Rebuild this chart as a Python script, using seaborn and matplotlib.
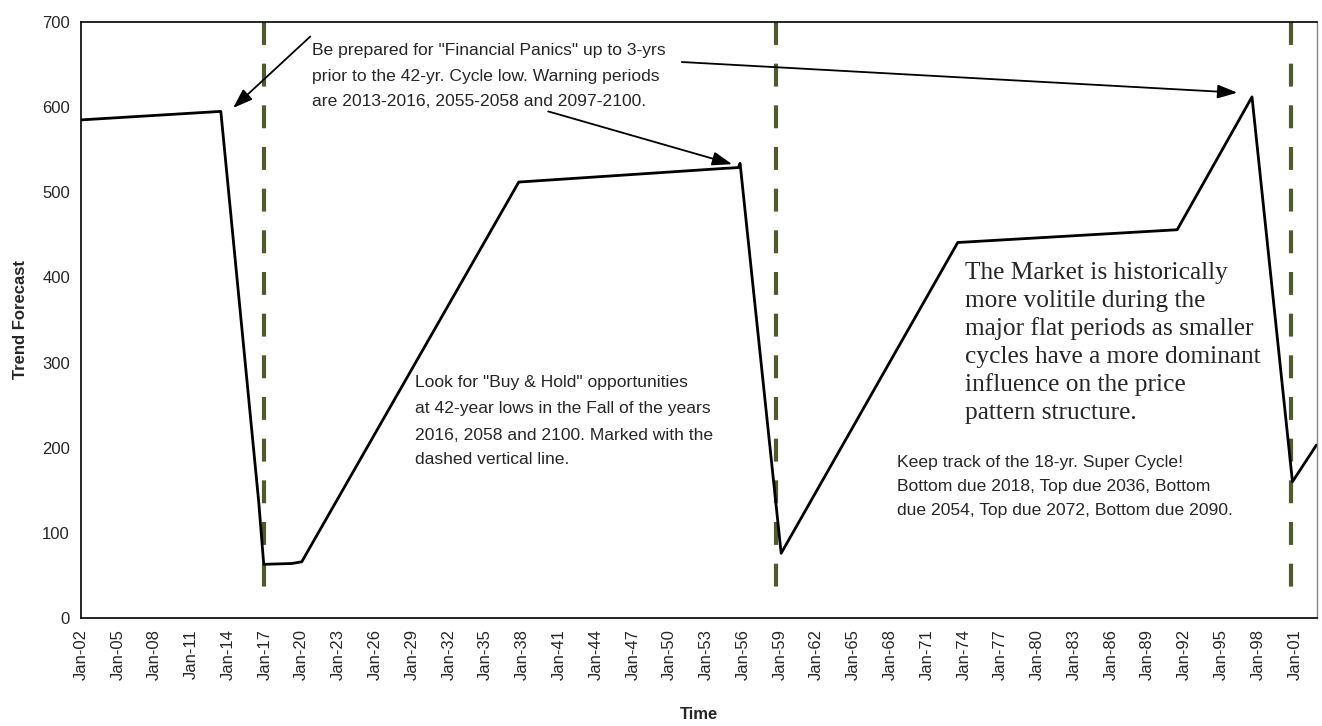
import matplotlib
matplotlib.use("Agg")
import matplotlib.pyplot as plt
from matplotlib import font_manager
import seaborn as sns
import pandas as pd

# ---- data ----
years = [2002, 2013.4, 2016.5, 2016.9, 2019.2, 2020.0, 2037.7, 2054.4, 2055.6, 2055.75,
         2059.1, 2073.5, 2091.4, 2097.5, 2100.8, 2102.75]
values = [585, 595, 135, 63, 64, 66, 512, 528, 529, 534,
          76, 441, 456, 612, 160, 203]
cycle_lows = [2016.9, 2058.7, 2100.7]
tick_years = list(range(2002, 2102, 3))
tick_labels = [f"Jan-{y % 100:02d}" for y in tick_years]
y_ticks = [0, 100, 200, 300, 400, 500, 600, 700]

lines_panics = ['Be prepared for "Financial Panics" up to 3-yrs',
                'prior to the 42-yr. Cycle low. Warning periods',
                'are 2013-2016, 2055-2058 and 2097-2100.']
lines_buy = ['Look for "Buy & Hold" opportunities',
             'at 42-year lows in the Fall of the years',
             '2016, 2058 and 2100. Marked with the',
             'dashed vertical line.']
lines_super = ['Keep track of the 18-yr. Super Cycle!',
               'Bottom due 2018, Top due 2036, Bottom',
               'due 2054, Top due 2072, Bottom due 2090.']
lines_market = ['The Market is historically',
                'more volitile during the',
                'major flat periods as smaller',
                'cycles have a more dominant',
                'influence on the price',
                'pattern structure.']

df = pd.DataFrame({"Time": years, "Trend Forecast": values})

sns.set_style("white")
avail = {f.name for f in font_manager.fontManager.ttflist}
sans = [f for f in ["Liberation Sans", "DejaVu Sans"] if f in avail]
serif = [f for f in ["Liberation Serif", "DejaVu Serif"] if f in avail]
plt.rcParams["font.family"] = sans

W, H = 1322, 726
fig = plt.figure(figsize=(W / 100, H / 100), dpi=100)
ax = fig.add_axes([0.0613, 0.1488, 0.9962 - 0.0613, 0.9697 - 0.1488])

sns.lineplot(data=df, x="Time", y="Trend Forecast", ax=ax, color="black",
             linewidth=2.0, sort=False, estimator=None)

ax.vlines(cycle_lows, 700, 25, colors="#4f5b2c", linewidth=3.0,
          linestyles=(0, (5.5, 4.5)), zorder=1)

ax.set_xlim(2002, 2102.8)
ax.set_ylim(0, 700)
ax.set_xticks(tick_years)
ax.set_xticklabels(tick_labels, rotation=90, fontsize=12)
ax.set_yticks(y_ticks)
ax.set_yticklabels([str(v) for v in y_ticks], fontsize=12)
ax.tick_params(axis="both", direction="out", length=5, width=1, color="black", pad=3)
ax.set_xlabel("Time", fontsize=12, fontweight="bold", labelpad=19)
ax.set_ylabel("Trend Forecast", fontsize=12, fontweight="bold", labelpad=10)

for side in ["left", "bottom", "top"]:
    ax.spines[side].set_color("black")
    ax.spines[side].set_linewidth(1.2)
ax.spines["right"].set_color("#888888")
ax.spines["right"].set_linewidth(1.0)

renderer = fig.canvas.get_renderer()


def place_block(lines, x_px, y_centers, size=None, target_w=None, **kw):
    texts = [fig.text(x_px / W, 1 - y / H, s, va="center", ha="left", **kw)
             for s, y in zip(lines, y_centers)]
    if size is None:
        for t in texts:
            t.set_fontsize(10)
        wmax = max(t.get_window_extent(renderer).width for t in texts)
        size = 10 * target_w / wmax
    for t in texts:
        t.set_fontsize(size)
    return texts


note_size = 12.6
place_block(lines_panics, 312, [50, 76, 101], size=note_size)
place_block(lines_buy, 415, [383, 409, 435, 460], size=note_size)
place_block(lines_super, 897, [462, 486, 510], size=note_size)
place_block(lines_market, 965, [273, 301, 329, 357, 385, 413], target_w=297, family=serif)

arrow = dict(arrowstyle="-|>,head_length=1.2,head_width=0.42", color="black", lw=1.3,
             shrinkA=0, shrinkB=0)
ax.annotate("", xy=(2014.4, 599), xytext=(2020.7, 683), arrowprops=arrow)
ax.annotate("", xy=(2055.1, 533), xytext=(2040.1, 595), arrowprops=arrow)
ax.annotate("", xy=(2096.3, 617), xytext=(2051.0, 653), arrowprops=arrow)

fig.savefig("out.png", dpi=100)
